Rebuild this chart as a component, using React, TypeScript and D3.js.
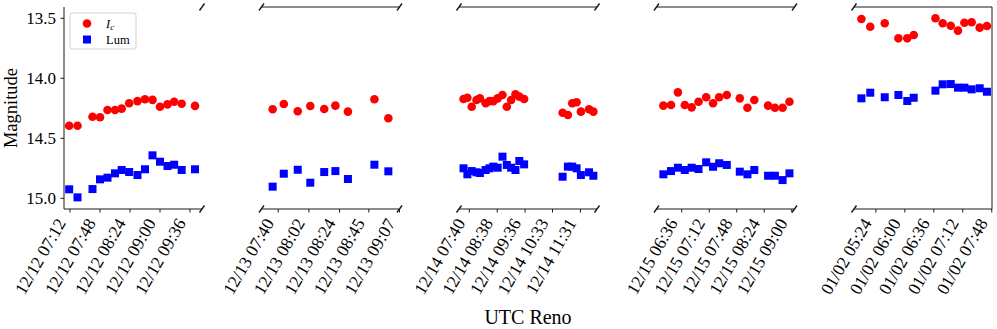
import React from 'react';
import * as d3 from 'd3';

// UTC observation times (HH:MM) and magnitudes, one set per night
const dec12Times = ['07:11', '07:21', '07:39', '07:48', '07:57', '08:06', '08:14', '08:23', '08:33', '08:42', '08:51', '09:00', '09:09', '09:17', '09:26', '09:42'];
const dec12Ic = [14.395, 14.395, 14.32, 14.325, 14.264, 14.264, 14.253, 14.208, 14.19, 14.175, 14.18, 14.237, 14.217, 14.195, 14.212, 14.23];
const dec12Lum = [14.925, 14.992, 14.923, 14.842, 14.828, 14.792, 14.764, 14.781, 14.806, 14.758, 14.642, 14.695, 14.731, 14.72, 14.764, 14.758];

const dec13Times = ['07:36', '07:44', '07:54', '08:03', '08:13', '08:21', '08:30', '08:49', '08:59'];
const dec13Ic = [14.258, 14.214, 14.275, 14.231, 14.256, 14.228, 14.278, 14.175, 14.333];
const dec13Lum = [14.903, 14.795, 14.762, 14.87, 14.781, 14.773, 14.839, 14.72, 14.775];

const dec14Times = ['07:28', '07:36', '07:45', '07:55', '08:02', '08:14', '08:22', '08:30', '08:39', '08:49', '08:58', '09:07', '09:16', '09:24', '09:34', '10:54', '11:05', '11:14', '11:23', '11:32', '11:49', '11:58'];
const dec14Ic = [14.173, 14.162, 14.237, 14.181, 14.167, 14.208, 14.19, 14.19, 14.167, 14.139, 14.237, 14.181, 14.133, 14.153, 14.173, 14.287, 14.306, 14.208, 14.2, 14.278, 14.258, 14.278];
const dec14Lum = [14.75, 14.8, 14.773, 14.783, 14.789, 14.764, 14.75, 14.736, 14.745, 14.653, 14.722, 14.745, 14.764, 14.689, 14.717, 14.82, 14.736, 14.736, 14.75, 14.806, 14.783, 14.812];

const dec15Times = ['06:12', '06:22', '06:31', '06:40', '06:49', '06:58', '07:08', '07:17', '07:25', '07:35', '07:52', '08:02', '08:11', '08:29', '08:38', '08:48', '08:57'];
const dec15Ic = [14.228, 14.223, 14.117, 14.223, 14.242, 14.195, 14.158, 14.208, 14.158, 14.139, 14.167, 14.245, 14.181, 14.228, 14.245, 14.245, 14.195];
const dec15Lum = [14.8, 14.773, 14.745, 14.764, 14.745, 14.756, 14.7, 14.737, 14.708, 14.722, 14.778, 14.8, 14.764, 14.812, 14.812, 14.848, 14.792];

const jan02Times = ['05:06', '05:17', '05:35', '05:52', '06:03', '06:11', '06:38', '06:47', '06:57', '07:06', '07:14', '07:23', '07:33', '07:42'];
const jan02Ic = [13.506, 13.57, 13.542, 13.667, 13.667, 13.639, 13.5, 13.542, 13.562, 13.603, 13.537, 13.533, 13.578, 13.564];
const jan02Lum = [14.167, 14.12, 14.158, 14.139, 14.189, 14.162, 14.103, 14.05, 14.048, 14.078, 14.078, 14.092, 14.083, 14.112];

const nightDates = ['12/12', '12/13', '12/14', '12/15', '01/02'];
const nightTicks = [
  ['07:12', '07:48', '08:24', '09:00', '09:36'],
  ['07:40', '08:02', '08:24', '08:45', '09:07'],
  ['07:40', '08:38', '09:36', '10:33', '11:31'],
  ['06:36', '07:12', '07:48', '08:24', '09:00'],
  ['05:24', '06:00', '06:36', '07:12', '07:48'],
];
// x limits of each panel, minutes after 00:00 UTC
const nightXLim = [[424.8, 590.4], [448, 547], [438.6, 725.5], [363, 543.6], [296.8, 468.3]];
const magTicks = [13.5, 14.0, 14.5, 15.0];
const magLim = [13.406, 15.089];

const toMin = (s: string) => {
  const [h, m] = s.split(':').map(Number);
  return h * 60 + m;
};

const nights = [
  { times: dec12Times, ic: dec12Ic, lum: dec12Lum },
  { times: dec13Times, ic: dec13Ic, lum: dec13Lum },
  { times: dec14Times, ic: dec14Ic, lum: dec14Lum },
  { times: dec15Times, ic: dec15Ic, lum: dec15Lum },
  { times: jan02Times, ic: jan02Ic, lum: jan02Lum },
];

const W = 997;
const H = 329;
const top = 7;
const bottom = 209;
const firstLeft = 64;
const panelW = 138;
const step = 197.5;
const font = "'Liberation Serif', 'Times New Roman', serif";
const ink = '#1a1a1a';

const y = d3.scaleLinear().domain(magLim).range([top, bottom]);

// little "/" marks where the axis is broken
const Break = ({ x, yy }: { x: number; yy: number }) => (
  <line x1={x - 2.5} y1={yy + 3.5} x2={x + 2.5} y2={yy - 3.5} stroke={ink} strokeWidth={1.4} />
);

export default function App() {
  return (
    <svg width={W} height={H} style={{ position: 'absolute', left: 0, top: 0, background: '#fff' }} fontFamily={font}>
      {nights.map((n, i) => {
        const left = firstLeft + i * step;
        const x = d3.scaleLinear().domain(nightXLim[i]).range([left, left + panelW]);
        const first = i === 0;
        const last = i === nights.length - 1;
        return (
          <g key={i}>
            {/* spines */}
            {!first && <line x1={left} x2={left + panelW} y1={top} y2={top} stroke={ink} strokeWidth={1} />}
            <line x1={left} x2={left + panelW} y1={bottom} y2={bottom} stroke={ink} strokeWidth={1} />
            {first && <line x1={left} x2={left} y1={top} y2={bottom} stroke={ink} strokeWidth={1} />}
            {last && <line x1={left + panelW} x2={left + panelW} y1={top} y2={bottom} stroke={ink} strokeWidth={1} />}
            {!first && <Break x={left} yy={top} />}
            {!first && <Break x={left} yy={bottom} />}
            {!last && <Break x={left + panelW} yy={top} />}
            {!last && <Break x={left + panelW} yy={bottom} />}

            {/* x ticks */}
            {nightTicks[i].map((t) => {
              const tx = x(toMin(t));
              return (
                <g key={t}>
                  <line x1={tx} x2={tx} y1={bottom} y2={bottom + 3.5} stroke={ink} strokeWidth={1} />
                  <text
                    transform={`translate(${tx - 3.5},${bottom + 14}) rotate(-60)`}
                    textAnchor="end"
                    fontSize={17.5}
                    fill="#000"
                  >
                    {`${nightDates[i]} ${t}`}
                  </text>
                </g>
              );
            })}

            {/* data */}
            {n.times.map((t, k) => (
              <circle key={'i' + k} cx={x(toMin(t))} cy={y(n.ic[k])} r={4.3} fill="#ff0000" />
            ))}
            {n.times.map((t, k) => (
              <rect key={'l' + k} x={x(toMin(t)) - 4} y={y(n.lum[k]) - 4} width={8} height={8} fill="#0000ff" />
            ))}
          </g>
        );
      })}

      {/* y axis */}
      {magTicks.map((m) => (
        <g key={m}>
          <line x1={firstLeft - 3.5} x2={firstLeft} y1={y(m)} y2={y(m)} stroke={ink} strokeWidth={1} />
          <text x={firstLeft - 8} y={y(m)} dy="0.35em" textAnchor="end" fontSize={17} fill="#000">
            {d3.format('.1f')(m)}
          </text>
        </g>
      ))}
      <text transform={`translate(17,${(top + bottom) / 2}) rotate(-90)`} textAnchor="middle" fontSize={18.5} fill="#000">
        Magnitude
      </text>
      <text x={528} y={324} textAnchor="middle" fontSize={20} fill="#000">
        UTC Reno
      </text>

      {/* legend */}
      <g>
        <rect x={70} y={13} width={66} height={36} rx={2.5} fill="#fff" fillOpacity={0.8} stroke="#d0d0d0" strokeWidth={1} />
        <circle cx={87} cy={23.5} r={4.3} fill="#ff0000" />
        <text x={106} y={27.5} fontSize={12.5} fill="#000">
          <tspan fontStyle="italic">I</tspan>
          <tspan fontStyle="italic" fontSize={9} dy={2.5}>c</tspan>
        </text>
        <rect x={83} y={35.5} width={8} height={8} fill="#0000ff" />
        <text x={106} y={44} fontSize={12.5} fill="#000">Lum</text>
      </g>
    </svg>
  );
}
